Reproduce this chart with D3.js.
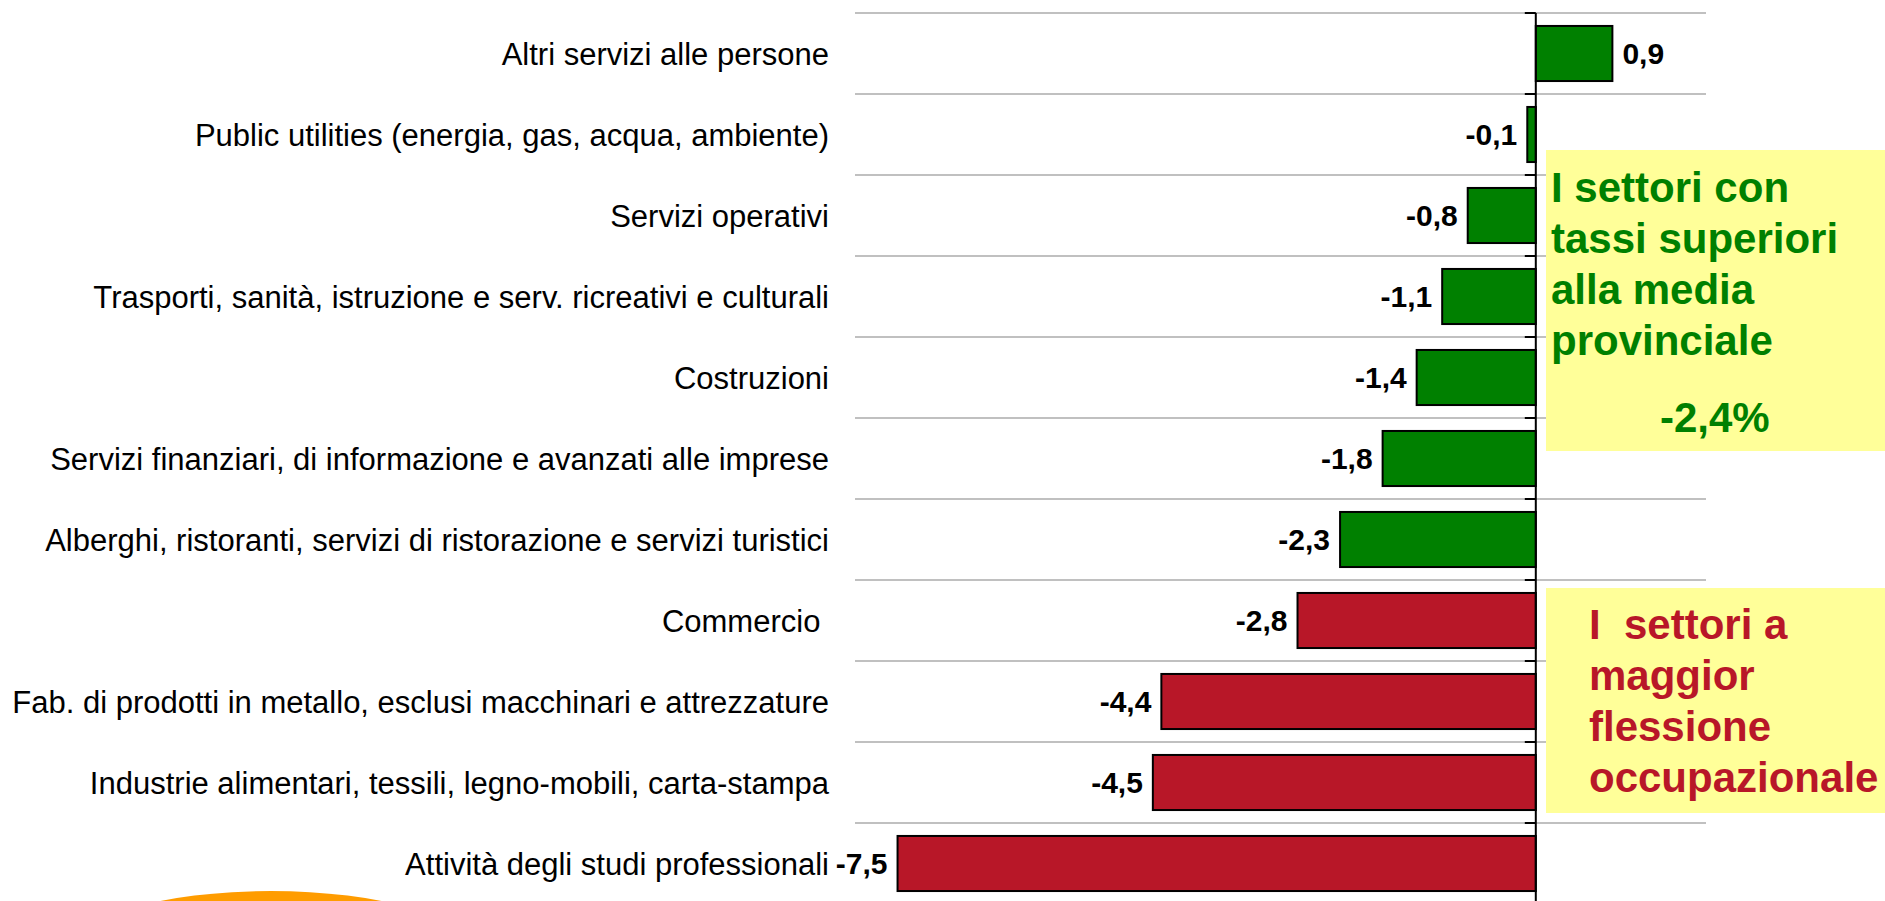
<!DOCTYPE html>
<html>
<head>
<meta charset="utf-8">
<script src="https://cdn.jsdelivr.net/npm/d3@7"></script>
<style>
  body { margin: 0; background: #fff; }
  text { font-family: "Liberation Sans", Arial, sans-serif; white-space: pre; }
</style>
</head>
<body>
<script>
let categories = [
    'Altri servizi alle persone',
    'Public utilities (energia, gas, acqua, ambiente)',
    'Servizi operativi',
    'Trasporti, sanità, istruzione e serv. ricreativi e culturali',
    'Costruzioni',
    'Servizi finanziari, di informazione e avanzati alle imprese',
    'Alberghi, ristoranti, servizi di ristorazione e servizi turistici',
    'Commercio ',
    'Fab. di prodotti in metallo, esclusi macchinari e attrezzature',
    'Industrie alimentari, tessili, legno-mobili, carta-stampa',
    'Attività degli studi professionali'
];
let values = [0.9, -0.1, -0.8, -1.1, -1.4, -1.8, -2.3, -2.8, -4.4, -4.5, -7.5];
// first 7 sectors are above the provincial average
let groups = ['sopra', 'sopra', 'sopra', 'sopra', 'sopra', 'sopra', 'sopra',
    'sotto', 'sotto', 'sotto', 'sotto'];
let noteTop = ['I settori con', 'tassi superiori', 'alla media', 'provinciale'];
let noteMedia = '-2,4%';
let noteBottom = ['I  settori a', 'maggior', 'flessione', 'occupazionale'];

let width = 1885, height = 901;
let green = '#008000', red = '#b81728';

let svg = d3.select('body').append('svg')
    .attr('width', width)
    .attr('height', height);

let x = d3.scaleLinear().domain([-8, 2]).range([855, 1706]);
let y = d3.scaleBand().domain(categories)
    .range([13, 13 + 81 * categories.length])
    .paddingInner(0.32)
    .paddingOuter(0.16);
let step = y.step();
let fmt = d => d3.format('.1f')(d).replace('.', ',').replace('−', '-');

// horizontal gridlines at band boundaries
let lines = d3.range(categories.length).map(i => y.range()[0] + i * step);
svg.append('g').selectAll('line')
    .data(lines)
    .enter()
    .append('line')
    .attr('x1', x.range()[0])
    .attr('x2', x.range()[1])
    .attr('y1', d => d)
    .attr('y2', d => d)
    .attr('stroke', '#c0c0c0')
    .attr('stroke-width', 2);

// bars
svg.append('g').selectAll('rect')
    .data(values)
    .enter()
    .append('rect')
    .attr('x', d => x(Math.min(0, d)))
    .attr('y', (d, i) => y(categories[i]))
    .attr('width', d => Math.abs(x(d) - x(0)))
    .attr('height', y.bandwidth())
    .attr('fill', (d, i) => groups[i] === 'sopra' ? green : red)
    .attr('stroke', '#000')
    .attr('stroke-width', 2);

// zero axis with ticks
let axis = svg.append('g');
axis.append('line')
    .attr('x1', x(0)).attr('x2', x(0))
    .attr('y1', y.range()[0]).attr('y2', height + 5)
    .attr('stroke', '#000')
    .attr('stroke-width', 2);
axis.selectAll('.tick')
    .data(lines)
    .enter()
    .append('line')
    .attr('class', 'tick')
    .attr('x1', x(0) - 11).attr('x2', x(0))
    .attr('y1', d => d).attr('y2', d => d)
    .attr('stroke', '#000')
    .attr('stroke-width', 2);

// category labels
svg.append('g').selectAll('text')
    .data(categories)
    .enter()
    .append('text')
    .attr('x', 829)
    .attr('y', d => y(d) + y.bandwidth() / 2)
    .attr('dy', '0.36em')
    .attr('text-anchor', 'end')
    .style('font-size', '31px')
    .attr('fill', '#000')
    .text(d => d);

// value labels
svg.append('g').selectAll('text')
    .data(values)
    .enter()
    .append('text')
    .attr('x', d => d >= 0 ? x(d) + 10 : x(d) - 10)
    .attr('y', (d, i) => y(categories[i]) + y.bandwidth() / 2)
    .attr('dy', '0.36em')
    .attr('text-anchor', d => d >= 0 ? 'start' : 'end')
    .style('font-size', '30px')
    .style('font-weight', 'bold')
    .attr('fill', '#000')
    .text(d => fmt(d));

// yellow notes
let notes = svg.append('g');
notes.append('rect')
    .attr('x', 1546).attr('y', 150)
    .attr('width', width - 1546).attr('height', 301)
    .attr('fill', '#ffff99');
notes.append('rect')
    .attr('x', 1546).attr('y', 588)
    .attr('width', width - 1546).attr('height', 225)
    .attr('fill', '#ffff99');

notes.selectAll('.top')
    .data(noteTop)
    .enter()
    .append('text')
    .attr('class', 'top')
    .attr('x', 1551)
    .attr('y', (d, i) => 201.5 + i * 51.2)
    .style('font-size', '42px')
    .style('font-weight', 'bold')
    .attr('fill', green)
    .text(d => d);
notes.append('text')
    .attr('x', 1660)
    .attr('y', 431.5)
    .style('font-size', '42px')
    .style('font-weight', 'bold')
    .attr('fill', green)
    .text(noteMedia);

notes.selectAll('.bottom')
    .data(noteBottom)
    .enter()
    .append('text')
    .attr('class', 'bottom')
    .attr('x', 1589)
    .attr('y', (d, i) => 639.3 + i * 50.8)
    .style('font-size', '42px')
    .style('font-weight', 'bold')
    .attr('fill', red)
    .text(d => d);

// orange shape peeking at the bottom
svg.append('ellipse')
    .attr('cx', 271).attr('cy', 951)
    .attr('rx', 200).attr('ry', 60)
    .attr('fill', '#ff9c00');
</script>
</body>
</html>
